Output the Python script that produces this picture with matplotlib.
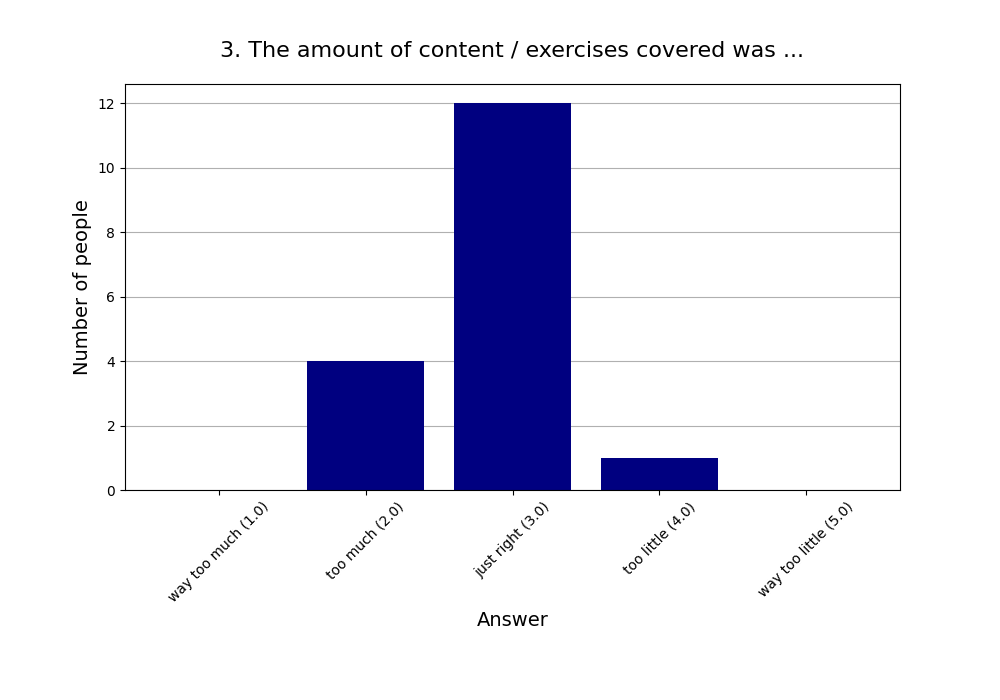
import matplotlib
matplotlib.use("Agg")
import matplotlib.pyplot as plt

answers = ["way too much (1.0)", "too much (2.0)", "just right (3.0)",
           "too little (4.0)", "way too little (5.0)"]
counts = [0, 4, 12, 1, 0]

fig, ax = plt.subplots(figsize=(10, 7), dpi=100)
fig.subplots_adjust(bottom=0.3)
ax.set_axisbelow(True)
ax.grid(axis="y")
ax.bar(answers, counts, color="navy")
ax.set_title("3. The amount of content / exercises covered was ...", fontsize=16, pad=20)
ax.set_xlabel("Answer", fontsize=14)
ax.set_ylabel("Number of people", fontsize=14)
plt.setp(ax.get_xticklabels(), rotation=45, ha="center")
fig.savefig("out.png")
